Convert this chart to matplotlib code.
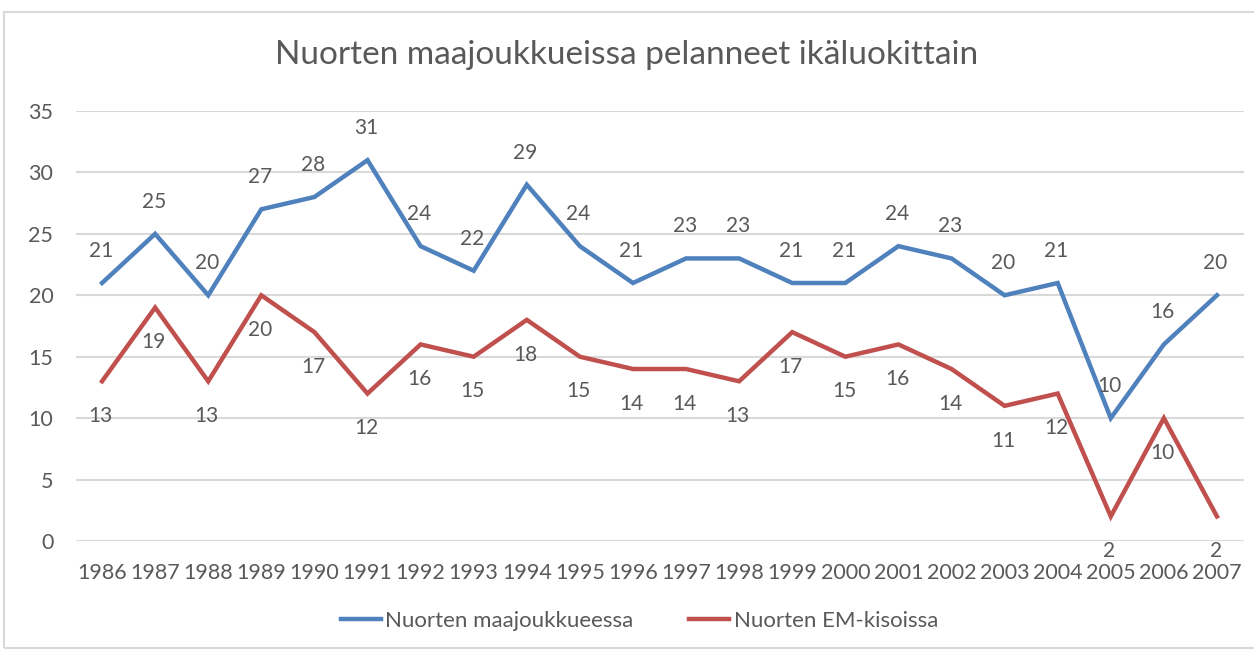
import matplotlib.pyplot as plt
from matplotlib.patches import Rectangle

years = list(range(1986, 2008))
maajoukkue = [21, 25, 20, 27, 28, 31, 24, 22, 29, 24, 21, 23, 23, 21, 21, 24, 23, 20, 21, 10, 16, 20]
em_kisat = [13, 19, 13, 20, 17, 12, 16, 15, 18, 15, 14, 14, 13, 17, 15, 16, 14, 11, 12, 2, 10, 2]
yticks = [0, 5, 10, 15, 20, 25, 30, 35]

blue = '#4F81BD'
red = '#C0504D'
gray = '#595959'
plt.rcParams['font.family'] = ['Lato', 'DejaVu Sans']

fig = plt.figure(figsize=(12.54, 6.51), dpi=100)
W, H = 1254, 651
# chart area border (Excel style)
fig.patches.append(Rectangle((4 / W, 1 - 648 / H), 1260 / W, 636 / H, transform=fig.transFigure,
                             fill=False, edgecolor='#D9D9D9', lw=1.5))

ax = fig.add_axes([75.5 / W, 1 - 541 / H, 1168 / W, 430 / H])
x = list(range(len(years)))
ax.plot(x, maajoukkue, color=blue, lw=3.2, solid_joinstyle='miter', label='Nuorten maajoukkueessa')
ax.plot(x, em_kisat, color=red, lw=3.2, solid_joinstyle='miter', label='Nuorten EM-kisoissa')

for i, v in enumerate(maajoukkue):
    ax.annotate(str(v), (i, v), xytext=(-1, 23), textcoords='offset points',
                ha='center', va='center', fontsize=15, color=gray)
for i, v in enumerate(em_kisat):
    ax.annotate(str(v), (i, v), xytext=(-1, -25), textcoords='offset points',
                ha='center', va='center', fontsize=15, color=gray)

ax.set_xlim(-0.5, len(years) - 0.5)
ax.set_ylim(0, 35)
ax.set_yticks(yticks)
ax.set_xticks(x)
ax.set_xticklabels([str(y) for y in years])
ax.tick_params(axis='both', length=0, labelsize=15.5, labelcolor=gray)
ax.tick_params(axis='y', pad=16)
ax.tick_params(axis='x', pad=16)
ax.grid(axis='y', color='#D9D9D9', lw=1.5)
ax.set_axisbelow(True)
for s in ax.spines.values():
    s.set_visible(False)

fig.text(0.5, 1 - 55 / H, 'Nuorten maajoukkueissa pelanneet ikäluokittain', ha='center', va='center',
         fontsize=24, color=gray)
fig.legend(loc='center', bbox_to_anchor=(0.51, 1 - 621 / H), ncol=2, frameon=False, fontsize=16,
           handlelength=1.8, handletextpad=0.2, columnspacing=2.5, labelcolor=gray)

fig.savefig('out.png', dpi=100)
